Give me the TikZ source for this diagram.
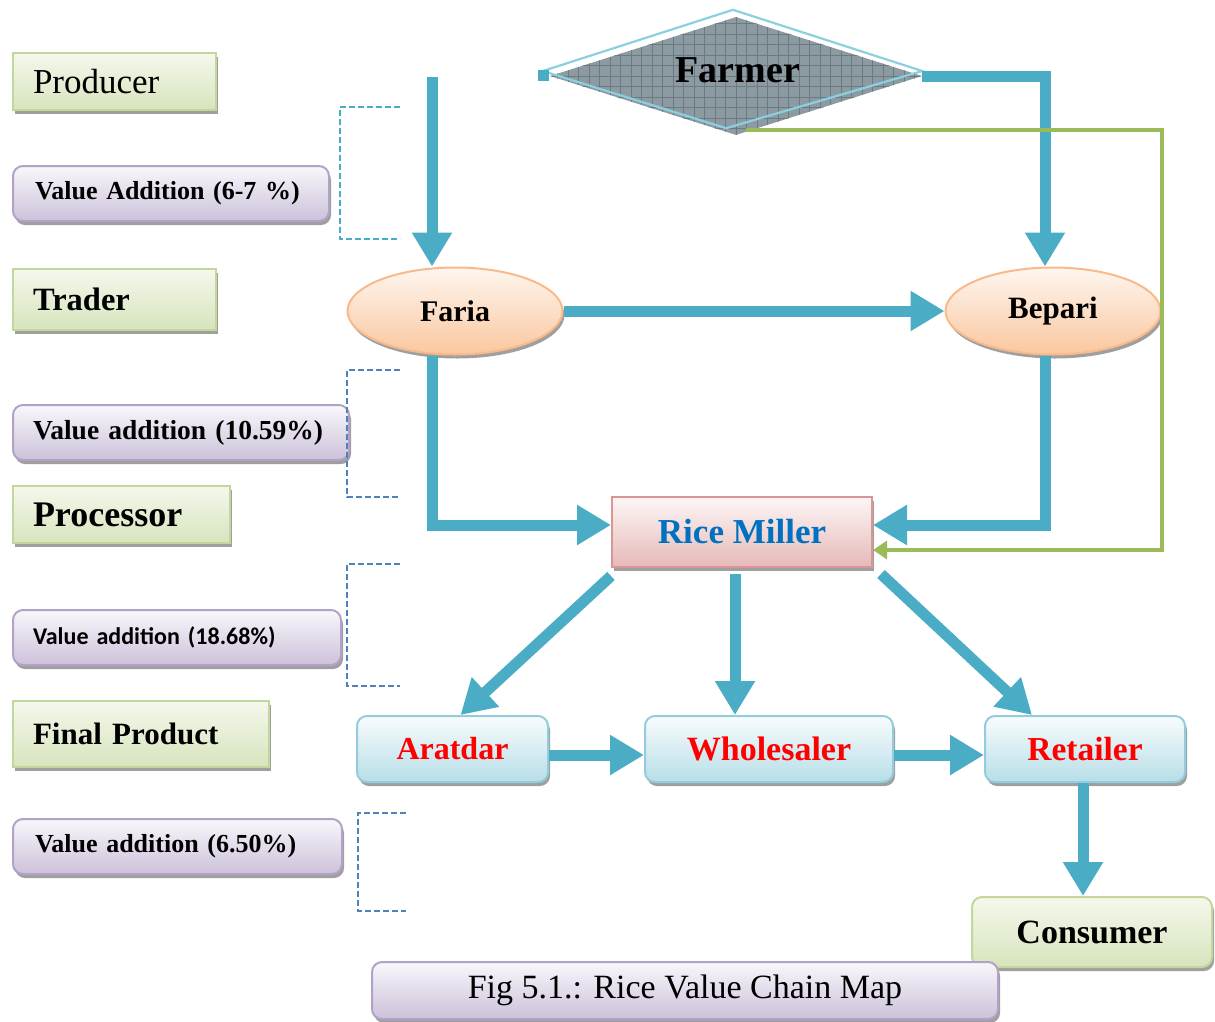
\documentclass[tikz,border=0pt]{standalone}
\usepackage{fontspec}
\setmainfont{Liberation Serif}
\newfontfamily\carlito{Carlito}
\usetikzlibrary{arrows.meta,shapes.geometric,shadows,calc}
\definecolor{flowblue}{HTML}{4BACC6}
\definecolor{dashblue}{HTML}{4F81BD}
\definecolor{glinecol}{HTML}{9BBB59}
\definecolor{grnTop}{HTML}{F4F8EC}
\definecolor{grnBot}{HTML}{D7E4BD}
\definecolor{grnBd}{HTML}{C3D69B}
\definecolor{purTop}{HTML}{F9F7FB}
\definecolor{purBot}{HTML}{CCC1DA}
\definecolor{purBd}{HTML}{B3A2C7}
\definecolor{bluTop}{HTML}{F9FCFD}
\definecolor{bluBot}{HTML}{B7DEE8}
\definecolor{bluBd}{HTML}{93CDDD}
\definecolor{pchTop}{HTML}{FEF6EF}
\definecolor{pchBot}{HTML}{FAC79F}
\definecolor{pchBd}{HTML}{F9B98A}
\definecolor{pnkTop}{HTML}{FDF6F6}
\definecolor{pnkBot}{HTML}{E6B9B8}
\definecolor{pnkBd}{HTML}{D99694}
\definecolor{farmGray}{HTML}{8C9AA2}
\definecolor{farmGrid}{HTML}{6D7A81}
\definecolor{farmLine}{HTML}{8CCFDF}
\definecolor{millText}{HTML}{0070C0}
\definecolor{redText}{HTML}{FF0000}
\begin{document}
\begin{tikzpicture}[x=1pt,y=-1pt,
  shad/.style={drop shadow={shadow xshift=2pt,shadow yshift=-4pt,fill=gray!75,opacity=1}},
  greenbox/.style={shad,draw=grnBd,line width=2pt,top color=grnTop,bottom color=grnBot,
    anchor=west,inner xsep=20pt,inner ysep=0pt,align=left},
  purplebox/.style={shad,draw=purBd,line width=2pt,rounded corners=10pt,top color=purTop,
    bottom color=purBot,anchor=west,inner xsep=22pt,inner ysep=0pt,align=left,minimum height=55pt},
  bluebox/.style={shad,draw=bluBd,line width=2pt,rounded corners=10pt,top color=bluTop,
    bottom color=bluBot,minimum height=66pt,text=redText},
  peach/.style={shad,ellipse,draw=pchBd,line width=2pt,top color=pchTop,bottom color=pchBot,
    minimum width=215pt,minimum height=87pt,inner sep=0pt},
  flow/.style={flowblue,line width=11pt,line join=miter,-{Triangle[length=34pt,width=38pt]}},
  gflow/.style={glinecol,line width=4pt,-{Triangle[length=14pt,width=18pt]}},
  dbr/.style={line width=1.6pt,dash pattern=on 6pt off 3pt}
]
\useasboundingbox (0,0) rectangle (1215,1021);

% left column
\node[greenbox,minimum height=57pt,text width=163pt,font=\fontsize{35}{39}\selectfont] (producer) at (12,81.5) {Producer};
\node[purplebox,text width=272pt,font=\bfseries\fontsize{26}{30}\selectfont] (va1) at (12,193.5) {Value Addition (6-7 \%)};
\node[greenbox,minimum height=61pt,text width=163pt,font=\bfseries\fontsize{32.5}{36}\selectfont] (trader) at (12,299.5) {Trader};
\node[purplebox,inner xsep=20pt,text width=296pt,font=\bfseries\fontsize{27.5}{32}\selectfont] (va2) at (12,432.5) {Value addition (10.59\%)};
\node[greenbox,minimum height=57pt,text width=177pt,font=\bfseries\fontsize{36}{40}\selectfont] (processor) at (12,514.5) {Processor};
\node[purplebox,inner xsep=20pt,text width=288pt,font=\carlito\bfseries\fontsize{24}{28}\selectfont] (va3) at (12,637.5) {Value addition (18.68\%)};
\node[greenbox,minimum height=66pt,text width=216pt,font=\bfseries\fontsize{31}{35}\selectfont] (final) at (12,734) {Final Product};
\node[purplebox,text width=285pt,font=\bfseries\fontsize{26}{30}\selectfont] (va4) at (12,846.5) {Value addition (6.50\%)};

% dashed brackets
\draw[dbr,flowblue] (400,107) -- (340,107) -- (340,239) -- (400,239);
\draw[dbr,dashblue] (400,370) -- (347,370) -- (347,497) -- (400,497);
\draw[dbr,dashblue] (400,564) -- (347,564) -- (347,686) -- (400,686);
\draw[dbr,dashblue] (406,813) -- (358,813) -- (358,911) -- (406,911);

% farmer
\node[diamond,minimum width=372pt,minimum height=118pt,inner sep=0pt,fill=farmGray,
  path picture={\draw[farmGrid,line width=1pt] (path picture bounding box.south west) grid[step=10.5pt] (path picture bounding box.north east);}]
  (farmer) at (736,76) {};
\draw[farmLine,line width=2.2pt] ([shift={(-7,-5)}]farmer.west) -- ([shift={(-3,-7)}]farmer.north)
  -- ([shift={(0,-5)}]farmer.east) -- ([shift={(-10,-7)}]farmer.south) -- cycle;
\node[font=\bfseries\fontsize{38}{42}\selectfont] (farmerlabel) at (738,70) {Farmer};
\node[fill=flowblue,minimum size=11pt,inner sep=0pt] (stub) at (543.5,75.5) {};

% traders
\node[peach,font=\bfseries\fontsize{30}{34}\selectfont] (faria) at (455,311) {Faria};
\node[peach,font=\bfseries\fontsize{31}{35}\selectfont] (bepari) at (1053,311) {Bepari};

% rice miller
\node[shad,draw=pnkBd,line width=2pt,top color=pnkTop,bottom color=pnkBot,minimum width=260pt,
  minimum height=70pt,text=millText,font=\bfseries\fontsize{35}{39}\selectfont] (rice) at (742,532) {Rice Miller};

% bottom chain
\node[bluebox,minimum width=191pt,font=\bfseries\fontsize{32}{36}\selectfont] (aratdar) at (452.5,749) {Aratdar};
\node[bluebox,minimum width=248pt,font=\bfseries\fontsize{34}{38}\selectfont] (wholesaler) at (769,749) {Wholesaler};
\node[bluebox,minimum width=200pt,font=\bfseries\fontsize{33.5}{37}\selectfont] (retailer) at (1085,749) {Retailer};
\node[shad,draw=grnBd,line width=2pt,rounded corners=10pt,top color=grnTop,bottom color=grnBot,
  minimum width=240pt,minimum height=70pt,font=\bfseries\fontsize{34}{38}\selectfont] (consumer) at (1092,932) {Consumer};
\node[shad,draw=purBd,line width=2pt,rounded corners=10pt,top color=purTop,bottom color=purBot,
  minimum width=626pt,minimum height=57pt,font=\fontsize{34}{38}\selectfont] (caption) at (685,990.5) {Fig 5.1.: Rice Value Chain Map};

% connectors
\coordinate (fstart) at (432,77);
\draw[flow] (fstart) -- (fstart |- faria.north);
\draw[flow] (farmer.east) -| ([xshift=-8pt]bepari.north);
\coordinate (gcorner) at (1162,300);
\draw[gflow] ([shift={(10,-5)}]farmer.south) -| (gcorner) |- ([yshift=-18pt]rice.east);
\draw[flow] (faria.east) -- (bepari.west);
\draw[flow] ([xshift=-23pt]faria.south) |- ([yshift=7pt]rice.west);
\draw[flow] ([xshift=-8pt]bepari.south) |- ([yshift=7pt]rice.east);
\draw[flow] ([shift={(0,8)}]rice.south west) -- ([shift={(8,0)}]aratdar.north);
\draw[flow] ([shift={(-7,6)}]rice.south) -- ([xshift=-34pt]wholesaler.north);
\draw[flow] ([shift={(8,6)}]rice.south east) -- ([xshift=-53pt]retailer.north);
\draw[flow] ([yshift=-6pt]aratdar.east) -- ([yshift=-6pt]wholesaler.west);
\draw[flow] ([yshift=-6pt]wholesaler.east) -- ([yshift=-6pt]retailer.west);
\draw[flow] ([xshift=-2pt]retailer.south) -- ([xshift=-2pt]retailer.south |- consumer.north);
\end{tikzpicture}
\end{document}
